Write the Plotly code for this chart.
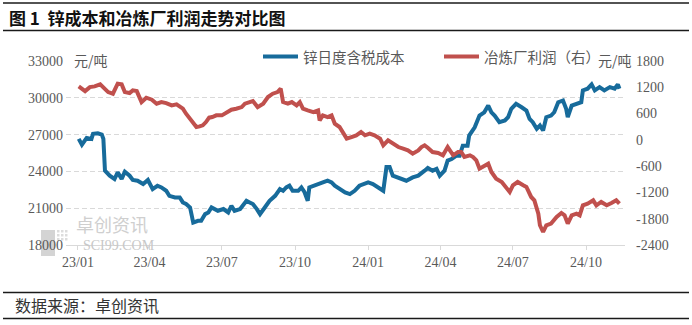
import plotly.graph_objects as go

# ---- data ----------------------------------------------------------------
cost_dates = [
    "2023-01-02", "2023-01-06", "2023-01-12", "2023-01-18", "2023-01-20", "2023-01-26",
    "2023-01-31", "2023-02-02", "2023-02-04", "2023-02-10", "2023-02-16", "2023-02-20",
    "2023-02-25", "2023-03-01", "2023-03-07", "2023-03-11", "2023-03-17", "2023-03-24",
    "2023-03-30", "2023-04-05", "2023-04-11", "2023-04-16", "2023-04-22", "2023-04-26",
    "2023-05-03", "2023-05-09", "2023-05-13", "2023-05-17", "2023-05-22", "2023-05-26",
    "2023-06-01", "2023-06-05", "2023-06-10", "2023-06-14", "2023-06-18", "2023-06-22",
    "2023-06-26", "2023-07-03", "2023-07-09", "2023-07-13", "2023-07-17", "2023-07-24",
    "2023-07-28", "2023-08-01", "2023-08-05", "2023-08-09", "2023-08-14", "2023-08-18",
    "2023-08-24", "2023-08-30", "2023-09-06", "2023-09-12", "2023-09-16", "2023-09-20",
    "2023-09-24", "2023-09-28", "2023-10-05", "2023-10-09", "2023-10-13", "2023-10-17",
    "2023-10-19", "2023-10-26", "2023-11-01", "2023-11-05", "2023-11-11", "2023-11-16",
    "2023-11-20", "2023-11-26", "2023-12-03", "2023-12-09", "2023-12-15", "2023-12-21",
    "2023-12-28", "2024-01-01", "2024-01-07", "2024-01-13", "2024-01-20", "2024-01-24",
    "2024-01-28", "2024-02-01", "2024-02-10", "2024-02-18", "2024-02-26", "2024-03-04",
    "2024-03-12", "2024-03-16", "2024-03-22", "2024-03-27", "2024-03-31", "2024-04-06",
    "2024-04-10", "2024-04-15", "2024-04-21", "2024-04-25", "2024-04-29", "2024-05-05",
    "2024-05-07", "2024-05-14", "2024-05-20", "2024-05-26", "2024-05-31", "2024-06-04",
    "2024-06-08", "2024-06-14", "2024-06-21", "2024-06-25", "2024-06-29", "2024-07-05",
    "2024-07-12", "2024-07-18", "2024-07-22", "2024-07-26", "2024-07-31", "2024-08-04",
    "2024-08-08", "2024-08-12", "2024-08-18", "2024-08-22", "2024-08-27", "2024-09-02",
    "2024-09-06", "2024-09-08", "2024-09-13", "2024-09-19", "2024-09-25", "2024-09-27",
    "2024-10-03", "2024-10-08", "2024-10-12", "2024-10-18", "2024-10-24", "2024-10-31",
    "2024-11-06", "2024-11-10", "2024-11-12",
]
zinc_cost = [
    26650, 26180, 26730, 26650, 27060, 27110,
    27000, 26650, 24060, 23650, 23380, 23920,
    23380, 23980, 23650, 23300, 23240, 22970,
    23300, 22560, 22830, 22690, 22420, 22010,
    21880, 21880, 21470, 21340, 21060, 19830,
    19970, 19970, 20520, 20650, 21060, 20930,
    20790, 20930, 20650, 21200, 20790, 20930,
    21340, 21600, 21470, 21340, 20930, 20520,
    21060, 21600, 22010, 22560, 22420, 22690,
    22830, 22420, 22420, 22690, 22300, 21600,
    22690, 22830, 22970, 23100, 23240, 23100,
    22830, 22560, 22290, 22150, 22420, 22830,
    22970, 23100, 22970, 22750, 22420, 24350,
    24350, 23650, 23460, 23240, 23510, 23650,
    24060, 24280, 24060, 24200, 23650, 24060,
    24880, 25010, 25280, 25280, 26100, 26100,
    26920, 27600, 28550, 28820, 29370, 28820,
    28550, 28010, 28150, 28420, 29100, 29510,
    29230, 28960, 28280, 28010, 27470, 27740,
    27330, 28420, 28550, 28820, 29640, 29780,
    29100, 28420, 29370, 29510, 29640, 30600,
    30740, 31090, 30600, 30870, 30600, 30870,
    30740, 31090, 30740,
]

profit_dates = [
    "2023-01-02", "2023-01-06", "2023-01-10", "2023-01-16", "2023-01-22", "2023-01-29",
    "2023-02-02", "2023-02-08", "2023-02-14", "2023-02-20", "2023-02-25", "2023-03-01",
    "2023-03-07", "2023-03-11", "2023-03-16", "2023-03-20", "2023-03-22", "2023-03-28",
    "2023-04-04", "2023-04-10", "2023-04-16", "2023-04-22", "2023-04-29", "2023-05-05",
    "2023-05-09", "2023-05-13", "2023-05-17", "2023-05-22", "2023-05-26", "2023-05-30",
    "2023-06-03", "2023-06-07", "2023-06-11", "2023-06-15", "2023-06-19", "2023-06-24",
    "2023-07-01", "2023-07-07", "2023-07-13", "2023-07-19", "2023-07-26", "2023-07-30",
    "2023-08-05", "2023-08-09", "2023-08-15", "2023-08-22", "2023-08-28", "2023-09-03",
    "2023-09-09", "2023-09-13", "2023-09-16", "2023-09-22", "2023-09-27", "2023-10-03",
    "2023-10-07", "2023-10-11", "2023-10-17", "2023-10-24", "2023-10-30", "2023-11-01",
    "2023-11-05", "2023-11-11", "2023-11-16", "2023-11-20", "2023-11-26", "2023-11-30",
    "2023-12-05", "2023-12-11", "2023-12-17", "2023-12-23", "2023-12-28", "2024-01-03",
    "2024-01-09", "2024-01-16", "2024-01-20", "2024-01-26", "2024-02-01", "2024-02-08",
    "2024-02-14", "2024-02-20", "2024-02-26", "2024-03-04", "2024-03-08", "2024-03-12",
    "2024-03-16", "2024-03-22", "2024-03-29", "2024-04-04", "2024-04-10", "2024-04-17",
    "2024-04-23", "2024-04-27", "2024-05-01", "2024-05-08", "2024-05-12", "2024-05-16",
    "2024-05-20", "2024-05-26", "2024-05-31", "2024-06-04", "2024-06-10", "2024-06-17",
    "2024-06-23", "2024-06-27", "2024-07-01", "2024-07-07", "2024-07-14", "2024-07-18",
    "2024-07-24", "2024-07-28", "2024-08-02", "2024-08-04", "2024-08-08", "2024-08-12",
    "2024-08-18", "2024-08-25", "2024-08-31", "2024-09-04", "2024-09-08", "2024-09-13",
    "2024-09-19", "2024-09-23", "2024-09-27", "2024-10-03", "2024-10-10", "2024-10-14",
    "2024-10-20", "2024-10-27", "2024-11-02", "2024-11-08", "2024-11-12",
]
smelter_profit = [
    1220, 1168, 1113, 1204, 1220, 1266,
    1190, 1090, 1053, 1282, 1266, 1090,
    1068, 1129, 1113, 977, 862, 962,
    917, 825, 862, 840, 787, 810,
    748, 711, 597, 483, 369, 293,
    308, 331, 406, 506, 520, 559,
    559, 612, 689, 711, 748, 825,
    862, 885, 748, 825, 977, 1053,
    1090, 1168, 862, 825, 862, 787,
    862, 711, 673, 634, 673, 445,
    559, 520, 559, 369, 293, 178,
    27, 64, 103, 178, 103, 141,
    103, 27, -125, -11, -87, -164,
    -201, -240, -315, -240, -164, -125,
    -180, -278, -300, -353, -164, -353,
    -278, -278, -390, -353, -392, -468,
    -657, -582, -545, -734, -886, -962,
    -1113, -1190, -1038, -962, -1038, -1076,
    -1304, -1380, -1684, -1950, -2103, -1950,
    -1912, -1760, -1669, -1722, -1912, -1722,
    -1684, -1722, -1494, -1456, -1380, -1494,
    -1418, -1494, -1441, -1380, -1456,
]

x_tick_dates = ["2023-01-01", "2023-04-01", "2023-07-01", "2023-10-01",
                "2024-01-01", "2024-04-01", "2024-07-01", "2024-10-01"]
x_tick_labels = ["23/01", "23/04", "23/07", "23/10", "24/01", "24/04", "24/07", "24/10"]
left_ticks = [18000, 21000, 24000, 27000, 30000, 33000]
left_tick_labels = ["18000", "21000", "24000", "27000", "30000", "33000"]
right_ticks = [-2400, -1800, -1200, -600, 0, 600, 1200, 1800]
right_tick_labels = ["-2400", "-1800", "-1200", "-600", "0", "600", "1200", "1800"]

cost_name = "锌日度含税成本"
profit_name = "冶炼厂利润（右）"
unit = "元/吨"
title_text = "图 1  锌成本和冶炼厂利润走势对比图"
source_text = "数据来源：卓创资讯"

# ---- styling -------------------------------------------------------------
BLUE = "#176B9B"
RED = "#C0504D"
GREY_TEXT = "#595959"
GRID = "#D9D9D9"
CJK = "Noto Sans CJK SC"
NUM = "Liberation Serif"

W, H = 692, 325
ML, MR, MT, MB = 66, 67, 61, 80
PW, PH = W - ML - MR, H - MT - MB


def px(x):
    """pixel column -> paper x"""
    return (x - ML) / PW


def py(y):
    """pixel row -> paper y"""
    return (H - MB - y) / PH


fig = go.Figure()
fig.add_trace(go.Scatter(
    x=cost_dates, y=zinc_cost, name=cost_name, mode="lines",
    line=dict(color=BLUE, width=4), yaxis="y", showlegend=False,
))
fig.add_trace(go.Scatter(
    x=profit_dates, y=smelter_profit, name=profit_name, mode="lines",
    line=dict(color=RED, width=4), yaxis="y2", showlegend=False,
))

shapes = []
annotations = []

# header / footer rules
for yy, w in [(3, 1.3), (30.5, 1.6), (292.5, 1.3), (318.5, 1.3)]:
    shapes.append(dict(type="line", xref="paper", yref="paper",
                       x0=px(3), x1=px(689), y0=py(yy), y1=py(yy),
                       line=dict(color="#1a1a1a", width=w), layer="above"))

annotations.append(dict(text=f"<b>{title_text}</b>", xref="paper", yref="paper",
                        x=px(7), y=py(17.5), xanchor="left", yanchor="middle",
                        showarrow=False, font=dict(family=CJK, size=17, color="#111")))
annotations.append(dict(text=source_text, xref="paper", yref="paper",
                        x=px(13), y=py(305), xanchor="left", yanchor="middle",
                        showarrow=False, font=dict(family=CJK, size=16, color="#333")))

# legend drawn by hand
for x0, x1, color, label in [(263, 298, BLUE, cost_name), (444, 479, RED, profit_name)]:
    shapes.append(dict(type="line", xref="paper", yref="paper",
                       x0=px(x0), x1=px(x1), y0=py(56.5), y1=py(56.5),
                       line=dict(color=color, width=4)))
    annotations.append(dict(text=label, xref="paper", yref="paper",
                            x=px(x1 + 3), y=py(56.5), xanchor="left", yanchor="middle",
                            showarrow=False, font=dict(family=CJK, size=14.5, color=GREY_TEXT)))

# axis units
for x, anchor in [(72, "left"), (634, "right")]:
    annotations.append(dict(text=unit, xref="paper", yref="paper",
                            x=px(x), y=py(60.5), xanchor=anchor, yanchor="middle",
                            showarrow=False, font=dict(family=CJK, size=14, color=GREY_TEXT)))

# watermark
shapes.append(dict(type="rect", xref="paper", yref="paper",
                   x0=px(41), x1=px(55), y0=py(256), y1=py(230),
                   fillcolor="#D4D4D4", line=dict(width=0), layer="below"))
for i in range(3):
    for j in range(3):
        shapes.append(dict(type="rect", xref="paper", yref="paper",
                           x0=px(57 + 4 * i), x1=px(59.5 + 4 * i),
                           y0=py(232.5 + 4 * j), y1=py(230 + 4 * j),
                           fillcolor="#DCDCDC", line=dict(width=0), layer="below"))
annotations.append(dict(text="卓创资讯", xref="paper", yref="paper",
                        x=px(74), y=py(224), xanchor="left", yanchor="middle",
                        showarrow=False, font=dict(family=CJK, size=18, color="#CFCFCF")))
annotations.append(dict(text="SCI99.COM", xref="paper", yref="paper",
                        x=px(81), y=py(245.5), xanchor="left", yanchor="middle",
                        showarrow=False, font=dict(family=NUM, size=14, color="#C8C8C8")))

fig.update_layout(
    width=W, height=H,
    margin=dict(l=ML, r=MR, t=MT, b=MB, pad=0),
    paper_bgcolor="white", plot_bgcolor="white",
    showlegend=False,
    xaxis=dict(
        type="date", range=["2022-12-17", "2024-11-19"],
        tickvals=x_tick_dates, ticktext=x_tick_labels,
        ticks="outside", ticklen=4, tickcolor=GRID, tickwidth=1,
        showline=True, linecolor=GRID, linewidth=1,
        showgrid=False, zeroline=False,
        tickfont=dict(family=NUM, size=14, color=GREY_TEXT),
    ),
    yaxis=dict(
        range=[18000, 33000], tickvals=left_ticks, ticktext=left_tick_labels,
        showgrid=True, gridcolor=GRID, griddash="5px,3px", gridwidth=1,
        zeroline=False, showline=False, ticks="",
        tickfont=dict(family=NUM, size=14, color=GREY_TEXT),
        ticklabelstandoff=2,
    ),
    yaxis2=dict(
        range=[-2400, 1800], tickvals=right_ticks, ticktext=right_tick_labels,
        overlaying="y", side="right",
        showgrid=False, zeroline=False, showline=False, ticks="",
        tickfont=dict(family=NUM, size=14, color=GREY_TEXT),
        ticklabelstandoff=10,
    ),
    shapes=shapes,
    annotations=annotations,
)

fig.write_html("out.html")
